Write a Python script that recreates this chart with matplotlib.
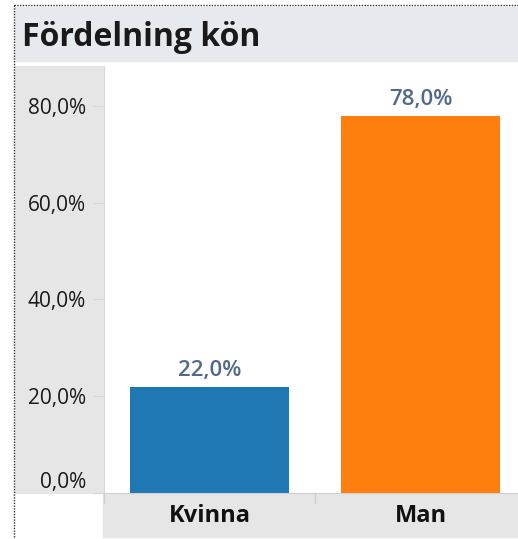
import matplotlib.pyplot as plt
from matplotlib.patches import Rectangle
from matplotlib.lines import Line2D

categories = ["Kvinna", "Man"]
shares = [22.0, 78.0]
bar_colors = ["#1f77b4", "#ff7f0e"]
y_ticks = [0, 20, 40, 60, 80]

plt.rcParams["font.family"] = ["Open Sans", "DejaVu Sans"]

W, H = 518, 539
fig = plt.figure(figsize=(W / 100, H / 100), dpi=100)
fig.patch.set_facecolor("white")


def box(x0, y0, x1, y1):
    # pixel coords (top-left origin) -> figure fraction rect
    return [x0 / W, 1 - y1 / H, (x1 - x0) / W, (y1 - y0) / H]


# title band
fig.patches.append(Rectangle((15 / W, 1 - 61 / H), (W - 15) / W, 54 / H,
                             transform=fig.transFigure, color="#e6e9ed", zorder=-5))
fig.text(22 / W, 1 - 37 / H, "Fördelning kön", fontsize=23, fontweight="bold",
         color="#1a1a1a", va="center", ha="left")

# y axis band and x label band
fig.patches.append(Rectangle((15 / W, 1 - 493 / H), 88 / W, 427 / H,
                             transform=fig.transFigure, color="#e6e6e6", zorder=-5))
fig.patches.append(Rectangle((103 / W, 1 - 537 / H), (W - 103) / W, 44 / H,
                             transform=fig.transFigure, color="#e6e6e6", zorder=-5))

# dotted frame
fig.lines.append(Line2D([14 / W, 14 / W], [1 - 5 / H, 0], transform=fig.transFigure,
                        color="#333333", lw=1, ls=(0, (1, 1))))
fig.lines.append(Line2D([14 / W, 1], [1 - 5 / H, 1 - 5 / H], transform=fig.transFigure,
                        color="#333333", lw=1, ls=(0, (1, 1))))

ax = fig.add_axes(box(104, 66, 518, 493))
ax.set_zorder(2)
ax.set_facecolor("white")
x = range(len(categories))
bars = ax.bar(x, shares, width=0.755, color=bar_colors)
ymax = (493 - 66) / ((493 - 106) / 80)
ax.set_ylim(0, ymax)
ax.set_xlim(-0.5, 1.5 - 8 / 211)

for b, v in zip(bars, shares):
    ax.annotate(f"{v:.1f}%".replace(".", ","), (b.get_x() + b.get_width() / 2, v),
                xytext=(0, 4), textcoords="offset points", ha="center", va="bottom",
                fontsize=16, fontweight="semibold", color="#4f6a8c")

ax.set_yticks(y_ticks)
ax.set_yticklabels([f"{t:.1f}%".replace(".", ",") for t in y_ticks], fontsize=15,
                   color="#1a1a1a")
ax.get_yticklabels()[0].set_verticalalignment("bottom")
ax.tick_params(axis="y", length=8, color="#d9d9d9", pad=5)
ax.set_xticks(list(x))
ax.set_xticklabels(categories, fontsize=17, fontweight="bold", color="#111111")
ax.tick_params(axis="x", length=0, pad=8)

for s in ["top", "right"]:
    ax.spines[s].set_visible(False)
ax.spines["left"].set_color("#d9d9d9")
ax.spines["bottom"].set_color("#cfcfcf")
ax.spines["bottom"].set_linestyle((0, (2, 1)))

# separators in x label band
for px in [104, 315]:
    fig.lines.append(Line2D([px / W, px / W], [1 - 493 / H, 1 - 503 / H],
                            transform=fig.transFigure, color="#cfcfcf", lw=1))

fig.savefig("out.png", dpi=100)
